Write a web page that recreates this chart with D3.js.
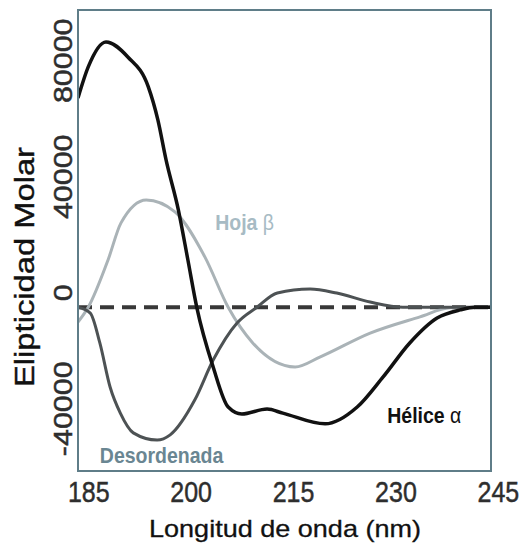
<!DOCTYPE html>
<html>
<head>
<meta charset="utf-8">
<script src="https://cdn.jsdelivr.net/npm/d3@7"></script>
<style>
  body { margin: 0; background: #fff; }
  svg { display: block; }
  text { font-family: "Liberation Sans", Arial, Helvetica, sans-serif; }
</style>
</head>
<body>
<svg id="chart" width="520" height="544"></svg>
<script>
// values: wavelength (nm) / molar ellipticity
const helixNm  = [183.5, 185.0, 187.6, 190.8, 193.8, 195.2, 196.4, 198.2, 199.6, 200.9, 203.3, 205.5, 207.5, 211.2, 213.5, 219.7, 224.4, 228.2, 232.1, 236.1, 239.5, 241.7, 244.0];
const helixVal = [72200, 82900, 91500, 86300, 76000, 64600, 50800, 33600, 16300, 0, -20600, -34400, -36800, -35100, -36500, -40200, -34400, -24000, -12300, -3700, -900, 0, 0];

const sheetNm  = [183.5, 185.0, 187.9, 189.8, 193.5, 197.7, 202.1, 205.5, 209.1, 215.3, 219.0, 226.3, 233.6, 238.0, 244.0];
const sheetVal = [-5100, 0, 16300, 29100, 37000, 32900, 17300, 0, -12300, -20600, -17100, -8900, -3300, -200, 0];

const coilNm  = [183.5, 185.3, 186.7, 188.2, 189.7, 191.6, 195.1, 197.0, 200.6, 203.3, 206.8, 209.7, 212.7, 217.5, 221.4, 226.3, 231.1, 244.0];
const coilVal = [0, -2000, -12300, -27500, -36500, -43300, -45800, -44000, -32000, -18200, -5400, 0, 4900, 6300, 4900, 1800, 0, 0];

const xTicks = [185, 200, 215, 230, 245];
const yTicks = [-40000, 0, 40000, 80000];

const series = [
  { name: 'Hoja β',      nm: sheetNm, val: sheetVal, color: '#aab3b7', width: 3 },
  { name: 'Desordenada', nm: coilNm,  val: coilVal,  color: '#4d5254', width: 3 },
  { name: 'Hélice α',    nm: helixNm, val: helixVal, color: '#111111', width: 3.5 }
];

// label anchors (nm, value)
const labels = [
  { text: 'Hoja ', greek: 'β', nm: 203.6, val: 26700,  color: '#a7bbc4' },
  { text: 'Desordenada', greek: '', nm: 186.7, val: -53700, color: '#6a8692' },
  { text: 'Hélice ', greek: 'α', nm: 228.8, val: -39900, color: '#111111' }
];

const svg = d3.select('#chart');
const box = { left: 78, top: 10, right: 491, bottom: 471 };

const x = d3.scaleLinear().domain([183.5, 244]).range([box.left, box.right]);
const y = d3.scaleLinear().domain([-56450, 102500]).range([box.bottom, box.top]);

svg.append('clipPath').attr('id', 'plot-clip')
  .append('rect')
  .attr('x', box.left).attr('y', box.top)
  .attr('width', box.right - box.left).attr('height', box.bottom - box.top);

// zero line
svg.append('line')
  .attr('x1', box.left).attr('x2', box.right)
  .attr('y1', y(0)).attr('y2', y(0))
  .attr('stroke', '#383838')
  .attr('stroke-width', 4)
  .attr('stroke-dasharray', '14,8');

const line = d3.line()
  .x(d => x(d[0]))
  .y(d => y(d[1]))
  .curve(d3.curveMonotoneX);

svg.append('g')
  .attr('clip-path', 'url(#plot-clip)')
  .selectAll('path')
  .data(series)
  .join('path')
  .attr('d', s => line(d3.zip(s.nm, s.val)))
  .attr('fill', 'none')
  .attr('stroke', s => s.color)
  .attr('stroke-width', s => s.width)
  .attr('stroke-linejoin', 'round');

// frame
svg.append('rect')
  .attr('x', box.left).attr('y', box.top)
  .attr('width', box.right - box.left).attr('height', box.bottom - box.top)
  .attr('fill', 'none')
  .attr('stroke', '#5f7d88')
  .attr('stroke-width', 2);

// series labels
const lab = svg.append('g').selectAll('text')
  .data(labels)
  .join('text')
  .attr('transform', d => `translate(${x(d.nm)},${y(d.val)}) scale(1,1.15)`)
  .attr('fill', d => d.color)
  .attr('font-size', 19.5)
  .attr('font-weight', 'bold');
lab.append('tspan').text(d => d.text);
lab.append('tspan').attr('font-weight', 'normal').text(d => d.greek);

// x axis
svg.append('g')
  .attr('transform', `translate(0,${box.bottom})`)
  .call(d3.axisBottom(x).tickValues(xTicks).tickSize(0).tickFormat(d => String(d)))
  .call(g => g.select('.domain').remove())
  .call(g => g.selectAll('text')
    .attr('y', null).attr('dy', null)
    .attr('transform', 'translate(0,31) scale(1,1.15)')
    .attr('fill', '#2e2e2e')
    .attr('stroke', '#2e2e2e')
    .attr('stroke-width', 0.4)
    .attr('font-size', 25)
    .attr('font-family', '"Liberation Sans", Arial, sans-serif'));

// y axis
svg.append('g')
  .attr('transform', `translate(${box.left},0)`)
  .call(d3.axisLeft(y).tickValues(yTicks).tickSize(0).tickFormat(d => String(d)))
  .call(g => g.select('.domain').remove())
  .call(g => g.selectAll('text')
    .attr('x', null).attr('dy', null)
    .attr('text-anchor', 'middle')
    .attr('transform', 'translate(-6,0) rotate(-90) scale(1.17,1)')
    .attr('dx', 15 / 1.17)
    .attr('fill', '#2e2e2e')
    .attr('stroke', '#2e2e2e')
    .attr('stroke-width', 0.5)
    .attr('font-size', 26)
    .attr('font-family', '"Liberation Sans", Arial, sans-serif'));

// axis titles
svg.append('text')
  .attr('x', 285).attr('y', 537)
  .attr('text-anchor', 'middle')
  .attr('font-size', 24)
  .attr('fill', '#111')
  .attr('stroke', '#111')
  .attr('stroke-width', 0.3)
  .attr('textLength', 272)
  .attr('lengthAdjust', 'spacingAndGlyphs')
  .text('Longitud de onda (nm)');

svg.append('text')
  .attr('transform', 'translate(34,267) rotate(-90)')
  .attr('text-anchor', 'middle')
  .attr('font-size', 27)
  .attr('fill', '#111')
  .attr('stroke', '#111')
  .attr('stroke-width', 0.4)
  .attr('textLength', 240)
  .attr('lengthAdjust', 'spacingAndGlyphs')
  .text('Elipticidad Molar');
</script>
</body>
</html>
